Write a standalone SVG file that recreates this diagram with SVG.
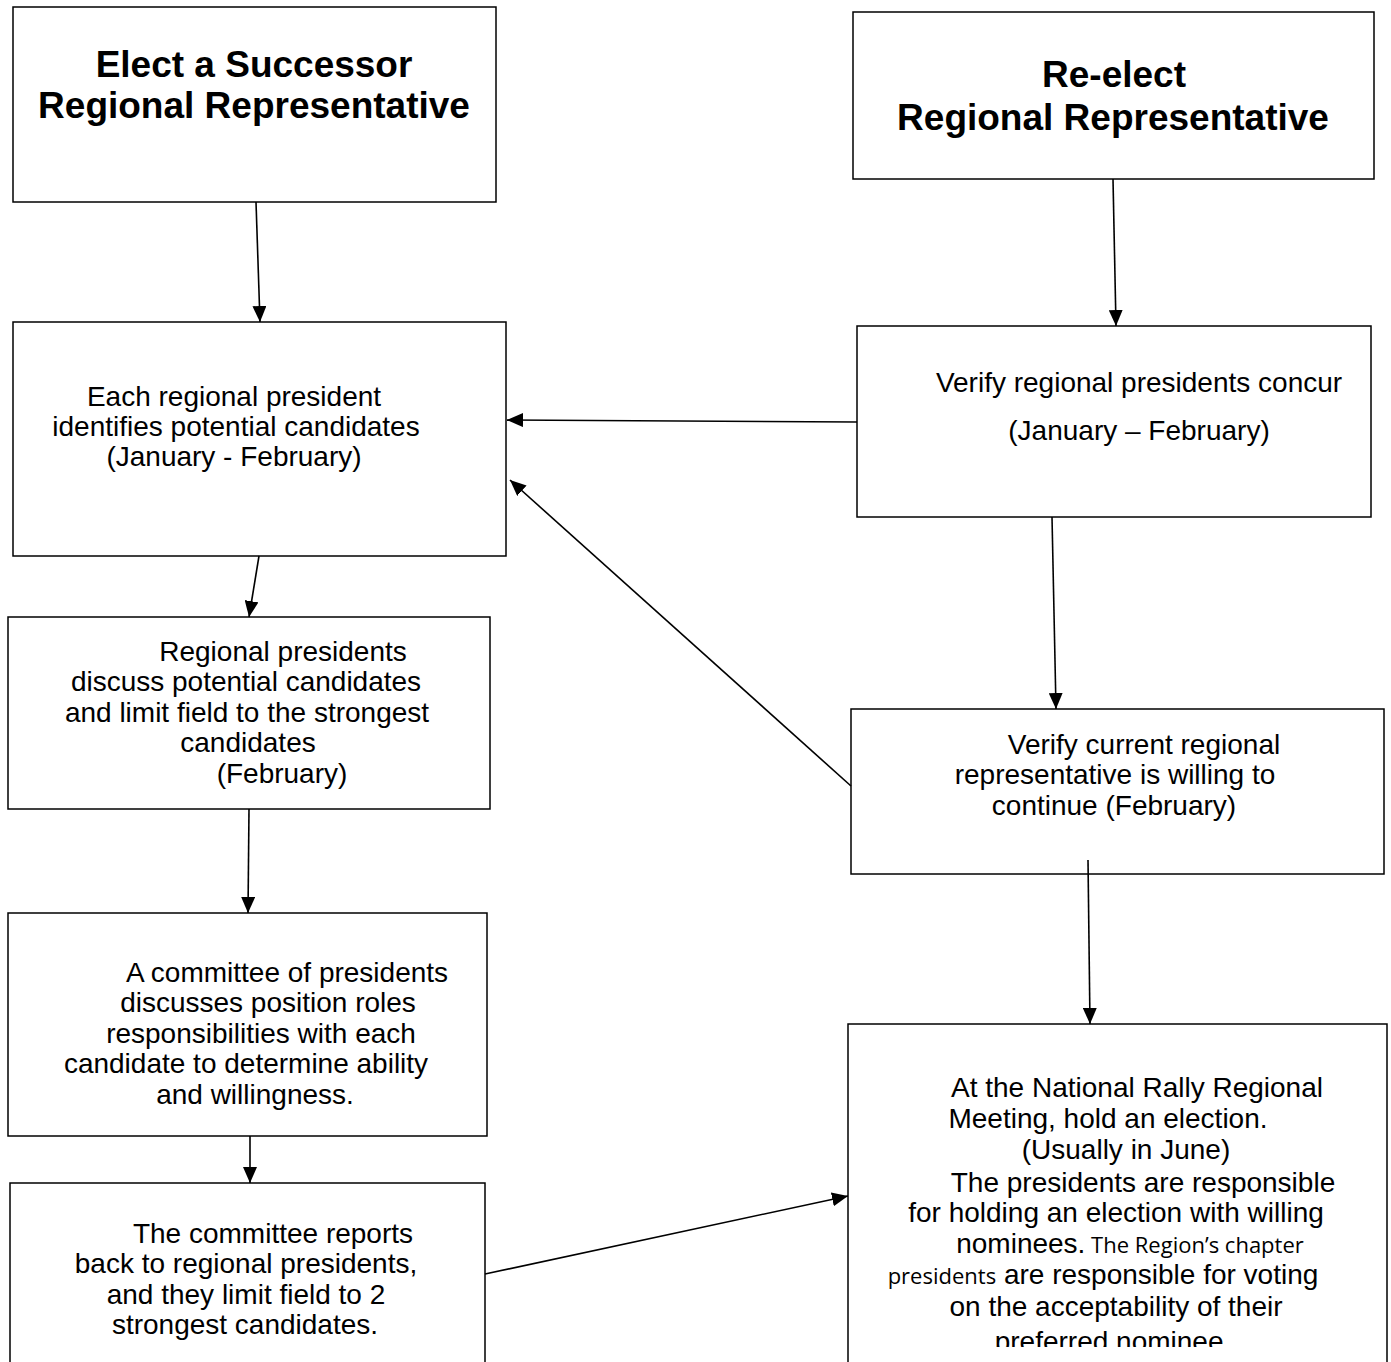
<svg xmlns="http://www.w3.org/2000/svg" width="1391" height="1362" viewBox="0 0 1391 1362">
<style>
.box{fill:#fff;stroke:#000;stroke-width:1.5}
.t{font-family:"Liberation Sans",Arial,sans-serif;font-size:28px;fill:#000;text-anchor:middle}
.h{font-family:"Liberation Sans",Arial,sans-serif;font-size:37px;font-weight:bold;fill:#000;text-anchor:middle}
.c{font-family:"Open Sans","Liberation Sans",sans-serif;font-size:22px}
.e{fill:none;stroke:#000;stroke-width:1.6}
</style>
<defs>
<marker id="arr" markerUnits="userSpaceOnUse" markerWidth="16" markerHeight="14" refX="16" refY="7" orient="auto">
<path d="M0,0 L16,7 L0,14 Z" fill="#000"/>
</marker>
<clipPath id="clip9"><rect x="848" y="1024" width="543" height="323"/></clipPath>
</defs>
<rect width="1391" height="1362" fill="#fff"/>
<g id="n1"><rect class="box" x="13" y="7" width="483" height="195"/>
<text class="h" x="254" y="77">Elect a Successor</text>
<text class="h" x="254" y="118">Regional Representative</text></g>
<g id="n2"><rect class="box" x="853" y="12" width="521" height="167"/>
<text class="h" x="1114" y="87">Re-elect</text>
<text class="h" x="1113" y="130">Regional Representative</text></g>
<g id="n3"><rect class="box" x="13" y="322" width="493" height="234"/>
<text class="t" x="234" y="406">Each regional president</text>
<text class="t" x="236" y="436">identifies potential candidates</text>
<text class="t" x="234" y="466">(January - February)</text></g>
<g id="n4"><rect class="box" x="857" y="326" width="514" height="191"/>
<text class="t" x="1139" y="392">Verify regional presidents concur</text>
<text class="t" x="1139" y="440">(January – February)</text></g>
<g id="n5"><rect class="box" x="8" y="617" width="482" height="192"/>
<text class="t" x="283" y="661">Regional presidents</text>
<text class="t" x="246" y="691">discuss potential candidates</text>
<text class="t" x="247" y="722">and limit field to the strongest</text>
<text class="t" x="248" y="752">candidates</text>
<text class="t" x="282" y="783">(February)</text></g>
<g id="n6"><rect class="box" x="851" y="709" width="533" height="165"/>
<text class="t" x="1144" y="754">Verify current regional</text>
<text class="t" x="1115" y="784">representative is willing to</text>
<text class="t" x="1114" y="815">continue (February)</text></g>
<g id="n7"><rect class="box" x="8" y="913" width="479" height="223"/>
<text class="t" x="287" y="982">A committee of presidents</text>
<text class="t" x="268" y="1012">discusses position roles</text>
<text class="t" x="261" y="1043">responsibilities with each</text>
<text class="t" x="246" y="1073">candidate to determine ability</text>
<text class="t" x="255" y="1104">and willingness.</text></g>
<g id="n8"><path class="box" d="M10,1362 V1183 H485 V1362"/>
<text class="t" x="273" y="1243">The committee reports</text>
<text class="t" x="246" y="1273">back to regional presidents,</text>
<text class="t" x="246" y="1304">and they limit field to 2</text>
<text class="t" x="245" y="1334">strongest candidates.</text></g>
<g id="n9"><path class="box" d="M848,1362 V1024 H1387 V1362"/>
<g clip-path="url(#clip9)">
<text class="t" x="1137" y="1097">At the National Rally Regional</text>
<text class="t" x="1108" y="1128">Meeting, hold an election.</text>
<text class="t" x="1126" y="1159">(Usually in June)</text>
<text class="t" x="1143" y="1192">The presidents are responsible</text>
<text class="t" x="1116" y="1222">for holding an election with willing</text>
<text class="t" x="1130" y="1253">nominees.<tspan class="c"> The Region’s chapter</tspan></text>
<text class="t" x="1103" y="1284"><tspan class="c">presidents</tspan> are responsible for voting</text>
<text class="t" x="1116" y="1316">on the acceptability of their</text>
<text class="t" x="1113" y="1351">preferred nominee.</text>
</g></g>
<g id="connectors">
<line class="e" x1="256" y1="202" x2="260" y2="322" marker-end="url(#arr)"/>
<line class="e" x1="1113" y1="179" x2="1116" y2="326" marker-end="url(#arr)"/>
<line class="e" x1="857" y1="422" x2="507" y2="420" marker-end="url(#arr)"/>
<line class="e" x1="851" y1="786" x2="510" y2="480" marker-end="url(#arr)"/>
<line class="e" x1="259" y1="556" x2="249" y2="617" marker-end="url(#arr)"/>
<line class="e" x1="1052" y1="517" x2="1056" y2="709" marker-end="url(#arr)"/>
<line class="e" x1="249" y1="809" x2="248" y2="913" marker-end="url(#arr)"/>
<line class="e" x1="1088" y1="860" x2="1090" y2="1024" marker-end="url(#arr)"/>
<line class="e" x1="250" y1="1136" x2="250" y2="1183" marker-end="url(#arr)"/>
<line class="e" x1="485" y1="1274" x2="848" y2="1196" marker-end="url(#arr)"/>
</g>
</svg>
